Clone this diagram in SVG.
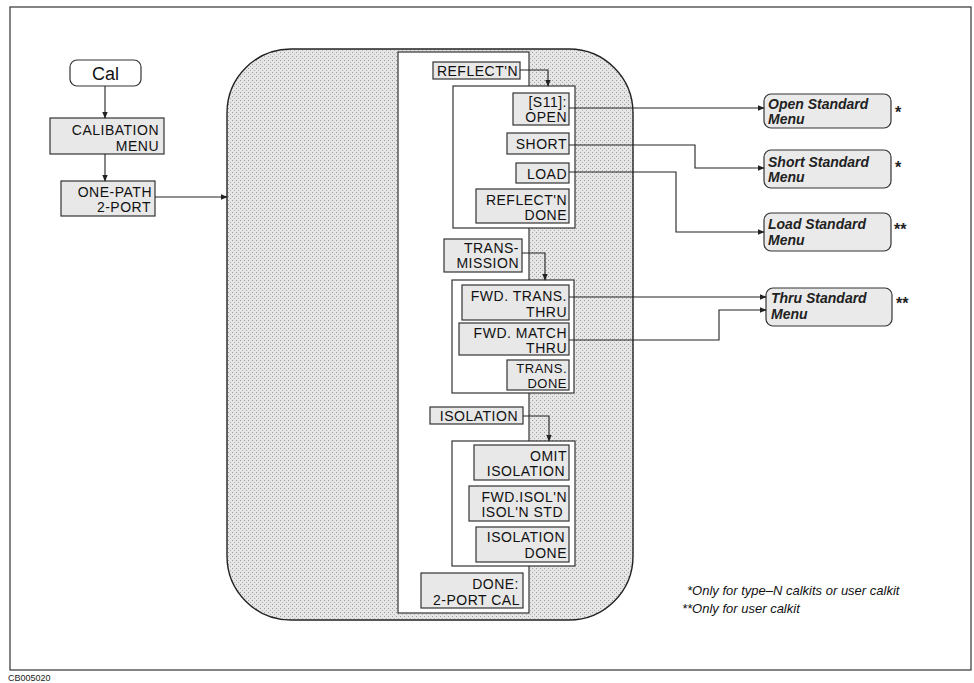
<svg xmlns="http://www.w3.org/2000/svg" width="974" height="683" viewBox="0 0 974 683">
<defs>
<marker id="ah" viewBox="0 0 10 10" refX="9" refY="5" markerWidth="7" markerHeight="7" orient="auto" markerUnits="userSpaceOnUse"><path d="M0,1 L10,5 L0,9 z" fill="#222"/></marker>
<pattern id="stip" width="4" height="4" patternUnits="userSpaceOnUse"><rect width="4" height="4" fill="#e6e6e6"/><rect x="0" y="0" width="1" height="1" fill="#9a9a9a"/><rect x="2" y="2" width="1" height="1" fill="#b0b0b0"/></pattern>
</defs>
<style>
.btn{fill:#e8e8e8;stroke:#333;stroke-width:1.2}
.menu{fill:#eaeaea;stroke:#333;stroke-width:1.2}
.panel{fill:#fff;stroke:#333;stroke-width:1.2}
.t{font-family:"Liberation Sans",Arial,sans-serif;font-size:14px;letter-spacing:0.5px;fill:#111}
.e{text-anchor:end}
.it{font-family:"Liberation Sans",Arial,sans-serif;font-size:14px;font-style:italic;font-weight:bold;fill:#222}
.star{font-family:"Liberation Sans",Arial,sans-serif;font-size:16px;font-weight:bold;fill:#222}
.fn{font-family:"Liberation Sans",Arial,sans-serif;font-size:13px;font-style:italic;fill:#111}
.conn{fill:none;stroke:#222;stroke-width:1.1}
</style>
<rect x="10" y="7" width="961" height="663" fill="#fff" stroke="#333" stroke-width="1.2"/>
<text x="8" y="681" font-family="Liberation Sans,Arial,sans-serif" font-size="9" fill="#222">CB005020</text>

<g id="region">
<rect x="227" y="49" width="406" height="571" rx="64" ry="64" fill="url(#stip)" stroke="#222" stroke-width="1.4"/>
<rect x="398" y="52" width="131" height="561" class="panel"/>
</g>

<g id="cal"><rect x="70" y="60" width="71" height="26" rx="7" fill="#fff" stroke="#333" stroke-width="1.2"/><text x="105.5" y="80" class="t" text-anchor="middle" style="font-size:18px;letter-spacing:0">Cal</text></g>
<g id="calmenu"><rect x="50" y="118" width="114" height="36" class="btn"/><text x="159" y="135" class="t e">CALIBATION</text><text x="159" y="151" class="t e">MENU</text></g>
<g id="onepath"><rect x="61" y="181" width="94" height="35" class="btn"/><text x="152" y="197" class="t e">ONE-PATH</text><text x="151" y="212" class="t e">2-PORT</text></g>

<g id="reflectn"><rect x="433" y="62" width="87" height="17" class="btn"/><text x="518" y="76" class="t e">REFLECT'N</text></g>
<g id="reflectsub"><rect x="453" y="86" width="122" height="142" class="panel"/></g>
<g id="open"><rect x="513" y="93" width="56" height="32" class="btn"/><text x="567" y="107" class="t e">[S11]:</text><text x="567" y="122" class="t e">OPEN</text></g>
<g id="short"><rect x="507" y="133" width="62" height="21" class="btn"/><text x="567" y="149" class="t e">SHORT</text></g>
<g id="load"><rect x="516" y="163" width="53" height="20" class="btn"/><text x="567" y="179" class="t e">LOAD</text></g>
<g id="reflectdone"><rect x="476" y="189" width="93" height="34" class="btn"/><text x="567" y="205" class="t e">REFLECT'N</text><text x="567" y="220" class="t e">DONE</text></g>

<g id="transmission"><rect x="444" y="239" width="78" height="33" class="btn"/><text x="519" y="253" class="t e">TRANS-</text><text x="519" y="268" class="t e">MISSION</text></g>
<g id="transsub"><rect x="452" y="280" width="122" height="113" class="panel"/></g>
<g id="fwdtrans"><rect x="462" y="285" width="107" height="35" class="btn"/><text x="567" y="301" class="t e">FWD. TRANS.</text><text x="567" y="317" class="t e">THRU</text></g>
<g id="fwdmatch"><rect x="459" y="323" width="110" height="32" class="btn"/><text x="567" y="338" class="t e">FWD. MATCH</text><text x="567" y="353" class="t e">THRU</text></g>
<g id="transdone"><rect x="507" y="360" width="62" height="30" class="btn"/><text x="567" y="373" class="t e" style="font-size:13px">TRANS.</text><text x="567" y="388" class="t e" style="font-size:13px">DONE</text></g>

<g id="isolation"><rect x="430" y="407" width="93" height="17" class="btn"/><text x="518" y="421" class="t e">ISOLATION</text></g>
<g id="isosub"><rect x="452" y="441" width="123" height="125" class="panel"/></g>
<g id="omit"><rect x="474" y="445" width="95" height="35" class="btn"/><text x="567" y="461" class="t e">OMIT</text><text x="565" y="476" class="t e">ISOLATION</text></g>
<g id="fwdisol"><rect x="469" y="486" width="100" height="35" class="btn"/><text x="567" y="502" class="t e">FWD.ISOL'N</text><text x="563" y="517" class="t e">ISOL'N STD</text></g>
<g id="isodone"><rect x="476" y="527" width="93" height="35" class="btn"/><text x="565" y="542" class="t e">ISOLATION</text><text x="567" y="558" class="t e">DONE</text></g>
<g id="done2port"><rect x="421" y="573" width="102" height="35" class="btn"/><text x="519" y="589" class="t e">DONE:</text><text x="520" y="605" class="t e">2-PORT CAL</text></g>

<g id="openstd"><rect x="764" y="94" width="127" height="34" rx="7" class="menu"/><text x="768" y="109" class="it">Open Standard</text><text x="768" y="124" class="it">Menu</text><text x="895" y="118" class="star">*</text></g>
<g id="shortstd"><rect x="764" y="150" width="127" height="38" rx="7" class="menu"/><text x="768" y="167" class="it">Short Standard</text><text x="768" y="182" class="it">Menu</text><text x="895" y="173" class="star">*</text></g>
<g id="loadstd"><rect x="764" y="213" width="127" height="38" rx="7" class="menu"/><text x="768" y="229" class="it">Load Standard</text><text x="768" y="245" class="it">Menu</text><text x="894" y="235" class="star">**</text></g>
<g id="thrustd"><rect x="766" y="288" width="126" height="38" rx="7" class="menu"/><text x="771" y="303" class="it">Thru Standard</text><text x="771" y="319" class="it">Menu</text><text x="896" y="309" class="star">**</text></g>

<g id="connectors">
<path class="conn" d="M105,86 V118" marker-end="url(#ah)"/>
<path class="conn" d="M105,154 V181" marker-end="url(#ah)"/>
<path class="conn" d="M155,197 H227" marker-end="url(#ah)"/>
<path class="conn" d="M520,70 H548 V86" marker-end="url(#ah)"/>
<path class="conn" d="M522,253 H545 V280" marker-end="url(#ah)"/>
<path class="conn" d="M523,416 H549 V441" marker-end="url(#ah)"/>
<path class="conn" d="M569,108 H764" marker-end="url(#ah)"/>
<path class="conn" d="M569,145 H695 V168 H764" marker-end="url(#ah)"/>
<path class="conn" d="M569,172 H676 V232 H764" marker-end="url(#ah)"/>
<path class="conn" d="M569,297 H766" marker-end="url(#ah)"/>
<path class="conn" d="M569,340 H719 V310 H766" marker-end="url(#ah)"/>
</g>

<text x="687" y="595" class="fn">*Only for type–N calkits or user calkit</text>
<text x="682" y="613" class="fn">**Only for user calkit</text>
</svg>
